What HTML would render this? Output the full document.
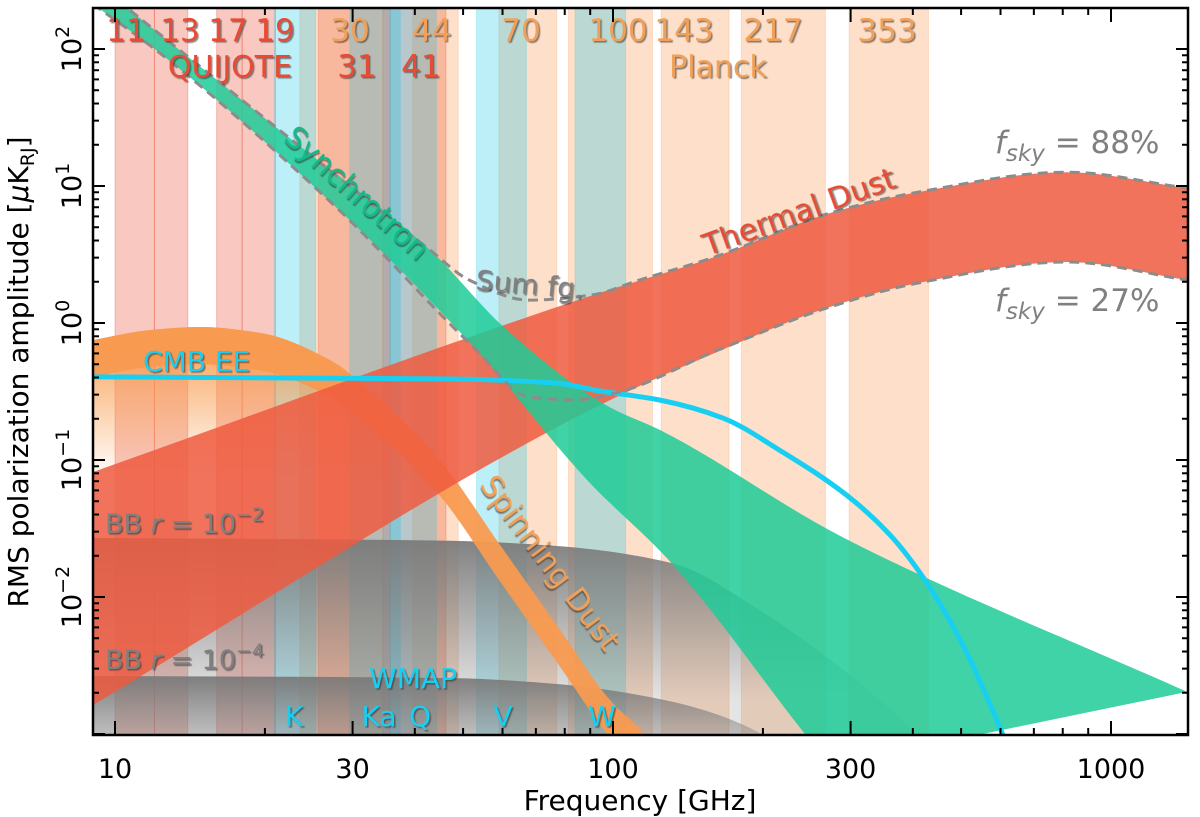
<!DOCTYPE html>
<html><head><meta charset="utf-8"><style>
html,body{margin:0;padding:0;background:#fff;}
svg{display:block;font-family:"DejaVu Sans","Liberation Sans",sans-serif;}
</style></head><body>
<svg id="chart" width="1200" height="817" viewBox="0 0 1200 817" xmlns="http://www.w3.org/2000/svg">
<defs>
<clipPath id="plotclip"><rect x="93" y="8" width="1095" height="727"/></clipPath>
<filter id="sh" x="-10%" y="-10%" width="130%" height="140%"><feDropShadow dx="1.5" dy="1.5" stdDeviation="0.6" flood-color="#333" flood-opacity="0.6"/></filter>
<linearGradient id="gSpin" gradientUnits="userSpaceOnUse" x1="0" y1="330" x2="0" y2="480"><stop offset="0" stop-color="#f89848" stop-opacity="0.95"/><stop offset="1" stop-color="#f89848" stop-opacity="0"/></linearGradient>
<linearGradient id="gBB2" gradientUnits="userSpaceOnUse" x1="0" y1="538" x2="0" y2="700"><stop offset="0" stop-color="#7a7a7a" stop-opacity="0.95"/><stop offset="1" stop-color="#7a7a7a" stop-opacity="0.2"/></linearGradient>
<linearGradient id="gBB4" gradientUnits="userSpaceOnUse" x1="0" y1="676" x2="0" y2="740"><stop offset="0" stop-color="#7a7a7a" stop-opacity="0.95"/><stop offset="1" stop-color="#7a7a7a" stop-opacity="0.3"/></linearGradient>
</defs>
<g id="plot" clip-path="url(#plotclip)"></g>
<g id="labels"></g>
<g id="axes"></g>
</svg>
<script>
// ---------- data ----------
const quijoteBands=[[10,12],[12,14],[16,18],[18,21],[25.6,35.7],[34.5,46.2]];
const wmapBands=[[20.9,25.3],[29.6,37.4],[35.7,44.2],[53.2,67.0],[83.9,106]];
const planckBands=[[23.5,34.5],[39.6,48.9],[59.0,77.1],[81.4,120],[125,171],[181,267],[298,430]];

const syncHiF=[9.03,10.7,21.4,42.9,61.2,98.2,124,286,1421];
const syncHiV=[319,193,25.6,3.41,0.89,0.244,0.166,0.0279,0.00203];
const syncLoF=[9.03,12.1,27.8,53.1,88.7,131,244,273];
const syncLoV=[213,98,7.0,0.64,0.0715,0.0177,0.00098,0.00059];

const dustHiF=[9.03,94.2,160,273,410,816,1421];
const dustHiV=[0.0817,1.66,3.03,6.35,9.03,12.6,9.66];
const dustLoF=[9.03,94.2,160,273,410,816,1421];
const dustLoV=[0.00163,0.252,0.604,1.31,1.96,2.79,2.06];

const spinF=[9.03,11.8,14.8,19.6,27.0,34.1,44.9,59.3,78.3,98.6,116,130];
const spinHiV=[0.751,0.889,0.935,0.845,0.537,0.274,0.100,0.0240,0.00574,0.00177,0.00098,0.0005];
const spinLoV=[0.40,0.48,0.50,0.45,0.29,0.15,0.055,0.013,0.0031,0.00095,0.00052,0.00027];

const cmbF=[9.03,47.1,76.5,94.2,124,166,216,296,360,419,498,607,640];
const cmbV=[0.404,0.390,0.365,0.319,0.274,0.203,0.118,0.0546,0.0284,0.0140,0.00486,0.00098,0.0006];

const bb2F=[9.03,47.1,76.5,131,197,273,344,404,430];
const bb2V=[0.0270,0.0257,0.0236,0.0177,0.00803,0.00347,0.00177,0.00098,0.0007];
const bb4F=[9.03,47.1,76.5,124,201,215];
const bb4V=[0.00265,0.00256,0.00232,0.00180,0.00098,0.0008];

const sumHiF=[9.03,10.7,21.4,42.9,51.4,67.8,90.7,113,160,273,410,816,1421];
const sumHiV=[319,193,25.6,3.41,2.06,1.47,1.60,2.06,3.03,6.35,9.03,12.6,9.66];
const sumLoF=[9.03,12.1,27.8,53.1,67.8,83.9,101,160,273,410,816,1421];
const sumLoV=[213,98,7.0,0.64,0.288,0.274,0.308,0.62,1.31,1.96,2.79,2.06];

const xTicks=[10,30,100,300,1000];
const xTickLabels=["10","30","100","300","1000"];
const yExps=[2,1,0,-1,-2];
const yTickLabels=["10","10","10","10","10"];
const yTickSups=["2","1","0","\u22121","\u22122"];

// ---------- scales ----------
const X=f=>115+498*(Math.log10(f)-1);
const Y=v=>49+137*(2-Math.log10(v));
const NS="http://www.w3.org/2000/svg";
const plot=document.getElementById('plot');
const axes=document.getElementById('axes');
function mk(tag,attrs,parent){const e=document.createElementNS(NS,tag);for(const k in attrs)e.setAttribute(k,attrs[k]);parent.appendChild(e);return e;}
function pts(F,V){return F.map((f,i)=>[X(f),Y(V[i])]);}
// monotone cubic (Fritsch-Carlson) in x
function smooth(p,move,rev){
 const n=p.length,dx=[],m=[],t=[];
 for(let i=0;i<n-1;i++){dx.push(p[i+1][0]-p[i][0]);m.push((p[i+1][1]-p[i][1])/dx[i]);}
 t[0]=m[0];t[n-1]=m[n-2];
 for(let i=1;i<n-1;i++){if(m[i-1]*m[i]<=0)t[i]=0;else{const w1=2*dx[i]+dx[i-1],w2=dx[i]+2*dx[i-1];t[i]=(w1+w2)/(w1/m[i-1]+w2/m[i]);}}
 const segs=[];
 for(let i=0;i<n-1;i++){const h=dx[i];segs.push([p[i],[p[i][0]+h/3,p[i][1]+t[i]*h/3],[p[i+1][0]-h/3,p[i+1][1]-t[i+1]*h/3],p[i+1]]);}
 const f=v=>v[0].toFixed(1)+','+v[1].toFixed(1);
 let d='';
 if(!rev){d+=(move?'M':'L')+f(p[0]);segs.forEach(s=>{d+='C'+f(s[1])+' '+f(s[2])+' '+f(s[3]);});}
 else{d+=(move?'M':'L')+f(p[n-1]);for(let i=segs.length-1;i>=0;i--){const s=segs[i];d+='C'+f(s[2])+' '+f(s[1])+' '+f(s[0]);}}
 return d;}
function band(F1,V1,F2,V2){return smooth(pts(F1,V1),true,false)+smooth(pts(F2,V2),false,true)+'Z';}
function toBottom(F,V){const a=pts(F,V);return smooth(a,true,false)+'L'+a[a.length-1][0]+',760L'+a[0][0]+',760Z';}

function strips(list,fill,stroke,name){list.forEach(b=>{
 const r=mk('rect',{x:X(b[0]),y:8,width:X(b[1])-X(b[0]),height:727,fill:fill,stroke:stroke,'stroke-width':1},plot);
 
 });}
strips(quijoteBands,'rgba(232,72,50,0.3)','rgba(232,72,50,0.3)','quijote-band');
strips(planckBands,'rgba(250,150,80,0.3)','rgba(250,150,80,0.25)','planck-band');
strips(wmapBands,'rgba(18,198,232,0.28)','rgba(18,198,232,0.2)','wmap-band');

let e;
e=mk('path',{d:toBottom(bb2F,bb2V),fill:'url(#gBB2)'},plot);


e=mk('path',{d:toBottom(bb4F,bb4V),fill:'url(#gBB4)'},plot);


e=mk('path',{d:toBottom(spinF,spinHiV),fill:'url(#gSpin)'},plot);


e=mk('path',{d:band(spinF,spinHiV,spinF,spinLoV),fill:'#f89a50','fill-opacity':0.95},plot);


e=mk('path',{d:band(dustHiF,dustHiV,dustLoF,dustLoV),fill:'#ee5a40','fill-opacity':0.85},plot);


e=mk('path',{d:band(syncHiF,syncHiV,syncLoF,syncLoV),fill:'#1ecb98','fill-opacity':0.85},plot);


e=mk('path',{d:smooth(pts(cmbF,cmbV),true,false),fill:'none',stroke:'#18cff2','stroke-width':5},plot);


e=mk('path',{d:smooth(pts(sumHiF,sumHiV),true,false),fill:'none',stroke:'#8c8c8c','stroke-width':3,'stroke-dasharray':'10,6'},plot);


e=mk('path',{d:smooth(pts(sumLoF,sumLoV),true,false),fill:'none',stroke:'#8c8c8c','stroke-width':3,'stroke-dasharray':'10,6'},plot);



mk('rect',{x:93,y:8,width:1095,height:727,fill:'none',stroke:'#000','stroke-width':2.5},axes);
for(let d=-3;d<=2;d++){for(let m=1;m<10;m++){const v=m*Math.pow(10,d);const y=Y(v);if(y<8||y>735)continue;const L=m===1?12:6;
 mk('line',{x1:93,x2:93+L,y1:y,y2:y,stroke:'#000','stroke-width':2},axes);
 mk('line',{x1:1188,x2:1188-L,y1:y,y2:y,stroke:'#000','stroke-width':2},axes);}}
for(let d=0;d<=3;d++){for(let m=1;m<10;m++){const f=m*Math.pow(10,d);const x=X(f);if(x<93||x>1188)continue;const L=(m===1||m===3)?14:7;
 mk('line',{x1:x,x2:x,y1:735,y2:735-L,stroke:'#000','stroke-width':2},axes);
 mk('line',{x1:x,x2:x,y1:8,y2:8+L,stroke:'#000','stroke-width':2},axes);}}
xTicks.forEach((f,i)=>{const t=mk('text',{x:X(f),y:778,'font-size':27,'text-anchor':'middle',fill:'#000'},axes);t.textContent=xTickLabels[i];
 
 });
yExps.forEach((p,i)=>{const y=Y(Math.pow(10,p));const t=mk('text',{x:0,y:0,'font-size':27,'text-anchor':'middle',fill:'#000',transform:`translate(81,${y}) rotate(-90)`},axes);
 const a=mk('tspan',{},t);a.textContent=yTickLabels[i];const b=mk('tspan',{dy:-12,'font-size':19},t);b.textContent=yTickSups[i];
 
 });
</script>
<script>
const L=document.getElementById('labels');
function txt(s,attrs,name){const t=document.createElementNS("http://www.w3.org/2000/svg",'text');for(const k in attrs)t.setAttribute(k,attrs[k]);t.innerHTML=s;L.appendChild(t);
 
 return t;}
const R='#e84c35',O='#f0a058',C='#18cff2',G='#808080';
const sh='url(#sh)';
[["11",126],["13",180],["17",228],["19",275]].forEach(a=>txt(a[0],{x:a[1],y:41,'font-size':31,'text-anchor':'middle',fill:R,filter:sh},'quijote-freq-label'));
txt("QUIJOTE",{x:230,y:77,'font-size':30,'text-anchor':'middle',fill:R,filter:sh},'quijote-label');
txt("31",{x:357,y:77,'font-size':31,'text-anchor':'middle',fill:R,filter:sh},'quijote-freq-label');
txt("41",{x:421,y:77,'font-size':31,'text-anchor':'middle',fill:R,filter:sh},'quijote-freq-label');
[["30",350],["44",432],["70",521],["100",618],["143",684],["217",773],["353",887]].forEach(a=>txt(a[0],{x:a[1],y:41,'font-size':31,'text-anchor':'middle',fill:O,filter:sh},'planck-freq-label'));
txt("Planck",{x:718,y:77,'font-size':30,'text-anchor':'middle',fill:O,filter:sh},'planck-label');
txt("WMAP",{x:413,y:688,'font-size':28,'text-anchor':'middle',fill:C,filter:sh},'wmap-label');
[["K",294],["Ka",379],["Q",420],["V",503],["W",602]].forEach(a=>txt(a[0],{x:a[1],y:726,'font-size':28,'text-anchor':'middle',fill:C,filter:sh},'wmap-band-label'));
txt("Synchrotron",{x:0,y:10,'font-size':30,'text-anchor':'middle',fill:'#18b888',filter:sh,transform:'translate(357,193) rotate(42)'},'synchrotron-label');
txt("Sum fg.",{x:0,y:10,'font-size':28,'text-anchor':'middle',fill:G,filter:sh,transform:'translate(530,284) rotate(5)'},'sum-fg-label');
txt("Thermal Dust",{x:0,y:10,'font-size':30,'text-anchor':'middle',fill:R,filter:sh,transform:'translate(799,212) rotate(-20)'},'thermal-dust-label');
txt("Spinning Dust",{x:0,y:10,'font-size':30,'text-anchor':'middle',fill:O,filter:sh,transform:'translate(550,563) rotate(53)'},'spinning-dust-label');
txt("CMB EE",{x:143,y:371,'font-size':28,fill:C,filter:sh},'cmb-ee-label');
txt('BB <tspan font-style="italic">r</tspan> = 10<tspan dy="-12" font-size="19">\u22122</tspan>',{x:105,y:533,'font-size':27,fill:G,filter:sh},'bb-r-1e-2-label');
txt('BB <tspan font-style="italic">r</tspan> = 10<tspan dy="-12" font-size="19">\u22124</tspan>',{x:105,y:669,'font-size':27,fill:G,filter:sh},'bb-r-1e-4-label');
txt('<tspan font-style="italic">f</tspan><tspan font-style="italic" dy="8" font-size="23">sky</tspan><tspan dy="-8"> = 88%</tspan>',{x:995,y:153,'font-size':31,fill:G},'fsky-88-label');
txt('<tspan font-style="italic">f</tspan><tspan font-style="italic" dy="8" font-size="23">sky</tspan><tspan dy="-8"> = 27%</tspan>',{x:995,y:311,'font-size':31,fill:G},'fsky-27-label');
txt("Frequency [GHz]",{x:640,y:810,'font-size':28,'text-anchor':'middle',fill:'#000'},'x-axis-title');
txt('RMS polarization amplitude [<tspan font-style="italic">μ</tspan>K<tspan dy="6" font-size="19">RJ</tspan><tspan dy="-6">]</tspan>',{x:0,y:0,'font-size':28,'text-anchor':'middle',fill:'#000',transform:'translate(28,372) rotate(-90)'},'y-axis-title');
</script>
</body></html>
